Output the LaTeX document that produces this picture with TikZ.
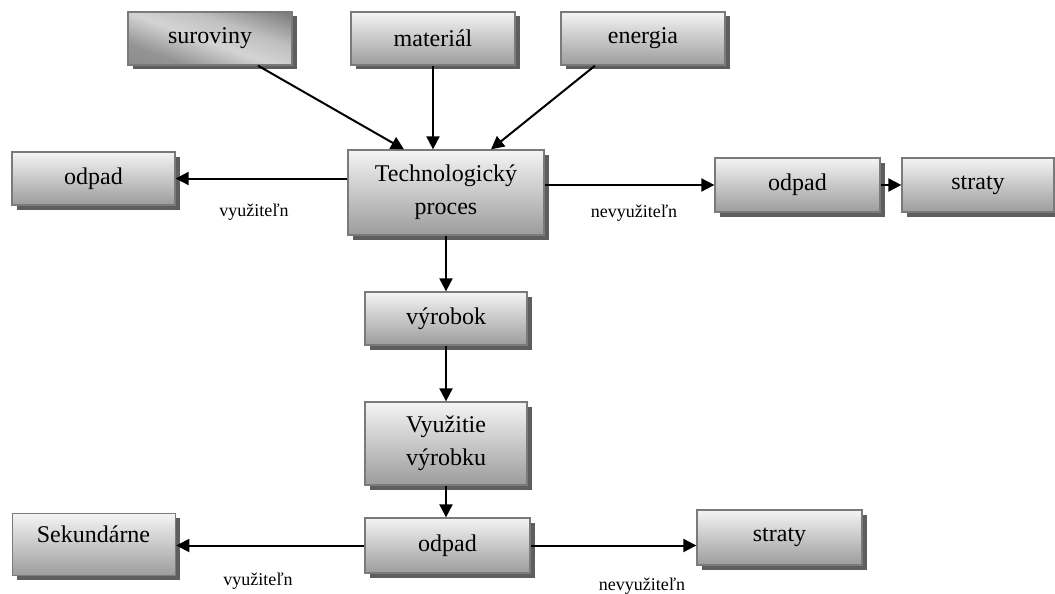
\documentclass[tikz,border=0pt]{standalone}
\usepackage{fontspec}
\setmainfont{Liberation Serif}
\usetikzlibrary{arrows.meta,shadows}
\definecolor{boxline}{HTML}{7A7A7A}
\definecolor{boxtop}{HTML}{F4F4F4}
\definecolor{boxbot}{HTML}{9C9C9C}
\definecolor{shadowgray}{HTML}{5E5E5E}
\pgfdeclarehorizontalshading{band}{100bp}{color(0bp)=(black!50); color(30bp)=(black!42); color(48bp)=(black!17); color(62bp)=(black!25); color(80bp)=(black!50); color(100bp)=(black!45)}
\tikzset{
  box/.style={draw=boxline, line width=1.3pt, top color=boxtop, bottom color=boxbot,
    font=\fontsize{24}{25}\selectfont, align=center, inner sep=0pt,
    drop shadow={shadow xshift=4.5pt, shadow yshift=-4.5pt, fill=shadowgray, opacity=1}},
  bandbox/.style={box, shading=band, shading angle=70},
  conn/.style={line width=2pt, -{Triangle[length=13pt,width=13pt]}},
  lbl/.style={font=\fontsize{18}{19}\selectfont, inner sep=0pt}
}
\begin{document}
\begin{tikzpicture}[x=1pt,y=-1pt]
\useasboundingbox (0,0) rectangle (1055,594);
% top inputs
\node[bandbox, minimum width=164pt, minimum height=53pt] (sur) at (210,38.5) {suroviny};
\node[box, minimum width=164pt, minimum height=53pt] (mat) at (433,38.5) {materiál};
\node[box, minimum width=164pt, minimum height=53pt] (ene) at (643,38.5) {energia};
% process
\node[box, minimum width=196pt, minimum height=85pt] (tech) at (446,192.5) {Technologický\\[8pt]proces};
\node[box, minimum width=163pt, minimum height=53pt] (odl) at (93.5,178.5) {odpad};
\node[box, minimum width=165pt, minimum height=54pt] (odr) at (797.5,185) {odpad};
\node[box, minimum width=152pt, minimum height=54pt] (str) at (978,185) {straty};
% product chain
\node[box, minimum width=162pt, minimum height=53pt] (vyr) at (446,318.5) {výrobok};
\node[box, minimum width=162pt, minimum height=83pt] (vyu) at (446,443.5) {Využitie\\[8pt]výrobku};
\node[box, minimum width=165pt, minimum height=55pt] (odb) at (447.5,545.5) {odpad};
\node[box, minimum width=163pt, minimum height=62pt, anchor=north west] (sek) at (12,513) {};
\node[font=\fontsize{24}{25}\selectfont, inner sep=0pt] (sekt) at (93.5,534) {Sekundárne};
\node[box, minimum width=165pt, minimum height=55pt] (stb) at (779.5,537.5) {straty};
% connectors
\coordinate (s1) at ([xshift=48pt]sur.south);
\draw[conn] (s1) -- ([xshift=-42pt]tech.north);
\draw[conn] (mat.south) -- (mat.south |- tech.north);
\draw[conn] ([xshift=-48pt]ene.south) -- ([xshift=45pt]tech.north);
\draw[conn] (tech.west |- odl.east) -- (odl.east);
\draw[conn] (tech.east |- odr.west) -- (odr.west);
\draw[conn] (odr.east) -- (str.west);
\draw[conn] (tech.south) -- (vyr.north);
\draw[conn] (vyr.south) -- (vyu.north);
\draw[conn] (vyu.south) -- (vyu.south |- odb.north);
\draw[conn] (odb.west) -- (odb.west -| sek.east);
\draw[conn] (odb.east) -- (odb.east -| stb.west);
% labels
\node[lbl] (l1) at (254,212) {využiteľn};
\node[lbl] (l2) at (634,213) {nevyužiteľn};
\node[lbl] (l3) at (258,581) {využiteľn};
\node[lbl] (l4) at (642,586) {nevyužiteľn};
\end{tikzpicture}
\end{document}
